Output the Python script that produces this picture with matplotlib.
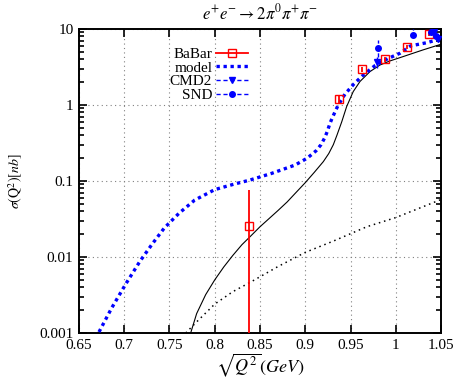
import numpy as np
import matplotlib
matplotlib.use("Agg")
import matplotlib.pyplot as plt
from matplotlib.lines import Line2D
from matplotlib.ticker import LogLocator, NullFormatter

plt.rcParams["font.family"] = ["Liberation Serif", "DejaVu Serif"]
plt.rcParams["mathtext.fontset"] = "stix"

# ---- datos ----
# modelo (linea azul punteada gruesa)
model_x = [0.6721, 0.6861, 0.7016, 0.7174, 0.7307, 0.7443, 0.7605, 0.7778, 0.800,
           0.820, 0.839, 0.8629, 0.8887, 0.9023, 0.9120, 0.9174, 0.9215, 0.9244,
           0.9270, 0.9299, 0.9359, 0.9439, 0.9539, 0.9649, 0.9771, 0.9911, 1.0047,
           1.0165, 1.0342, 1.0434, 1.050]
model_y = [0.00103, 0.00213, 0.0044, 0.0088, 0.0147, 0.0241, 0.0376, 0.056, 0.077,
           0.090, 0.103, 0.126, 0.162, 0.20, 0.25, 0.30, 0.37, 0.45,
           0.56, 0.68, 0.97, 1.39, 1.9, 2.53, 3.3, 4.07, 4.8,
           6.0, 6.6, 7.07, 7.4]

# curva negra continua
solid_x = [0.7734, 0.780, 0.790, 0.800, 0.810, 0.820, 0.830, 0.840, 0.850, 0.860,
           0.870, 0.880, 0.890, 0.900, 0.910, 0.920, 0.926, 0.931, 0.935, 0.9403,
           0.9457, 0.953, 0.9605, 0.9715, 0.9826, 0.9936, 1.0047, 1.030, 1.050]
solid_y = [0.001, 0.0018, 0.0032, 0.005, 0.0074, 0.0105, 0.0145, 0.019, 0.025, 0.032,
           0.041, 0.053, 0.071, 0.095, 0.13, 0.18, 0.23, 0.30, 0.40, 0.60,
           0.95, 1.5, 2.04, 2.75, 3.36, 3.8, 4.2, 5.3, 6.3]

# curva negra punteada fina
dot_x = [0.768, 0.780, 0.800, 0.820, 0.840, 0.870, 0.900, 0.930, 0.968, 1.000, 1.050]
dot_y = [0.001, 0.0014, 0.0024, 0.0035, 0.0047, 0.0075, 0.0115, 0.016, 0.025, 0.033, 0.057]

# BaBar
babar_x = [0.838, 0.9376, 0.9624, 0.9881, 1.0128, 1.037]
babar_y = [0.0257, 1.19, 2.95, 4.0, 5.85, 8.5]
babar_lo = [0.02569, 0.17, 0.2, 0.3, 0.4, 0.5]
babar_hi = [0.050, 0.17, 0.2, 0.3, 0.4, 0.5]

# CMD2
cmd2_x = [0.979, 1.042, 1.0465]
cmd2_y = [3.7, 9.0, 7.4]
cmd2_err = [0.6, 0.8, 0.7]

# SND
snd_x = [0.980, 1.0195, 1.0385, 1.0445]
snd_y = [5.6, 8.3, 9.2, 8.0]
snd_lo = [1.3, 0.4, 0.8, 0.8]
snd_hi = [1.6, 1.7, 0.8, 0.8]

x_ticks = [0.65, 0.7, 0.75, 0.8, 0.85, 0.9, 0.95, 1.0, 1.05]
x_tick_labels = ["0.65", "0.7", "0.75", "0.8", "0.85", "0.9", "0.95", "1", "1.05"]
y_ticks = [0.001, 0.01, 0.1, 1, 10]
y_tick_labels = ["0.001", "0.01", "0.1", "1", "10"]

# ---- grafico ----
fig = plt.figure(figsize=(4.63, 3.82), dpi=100)
ax = fig.add_axes([0.1706, 0.1283, 0.7819, 0.7958])

ax.errorbar(babar_x, babar_y, yerr=[babar_lo, babar_hi], color="red", lw=1.3,
            marker="s", ms=6, mfc="none", mec="red", mew=1.0, ls="none",
            capsize=0, zorder=4)
ax.plot(model_x, model_y, color="blue", lw=2.4, ls=(0, (1, 1.1)),
        dash_capstyle="butt", zorder=3)
ax.errorbar(cmd2_x, cmd2_y, yerr=cmd2_err, color="blue", lw=1.0, ls="none",
            marker="v", ms=4, capsize=0, zorder=5)
ax.errorbar(snd_x, snd_y, yerr=[snd_lo, snd_hi], color="blue", lw=1.0, ls="none",
            marker="o", ms=4, capsize=0, zorder=5)
ax.plot(solid_x, solid_y, color="black", lw=0.8, zorder=2)
ax.plot(dot_x, dot_y, color="black", lw=1.1, ls=(0, (1, 2.5)), zorder=2)

# barras de error a trazos para CMD2/SND
for cont in ax.containers[1:]:
    for bar in cont[2]:
        bar.set_linestyle((0, (3, 2)))

ax.set_yscale("log")
ax.set_xlim(0.65, 1.05)
ax.set_ylim(0.001, 10)
ax.set_xticks(x_ticks)
ax.set_xticklabels(x_tick_labels)
ax.set_yticks(y_ticks)
ax.set_yticklabels(y_tick_labels)
ax.yaxis.set_minor_locator(LogLocator(base=10, subs=np.arange(2, 10)))
ax.yaxis.set_minor_formatter(NullFormatter())
ax.tick_params(which="both", direction="in", top=True, right=True,
               labelsize=11, width=1.2)
ax.tick_params(which="major", length=6, pad=4)
ax.tick_params(which="minor", length=3.5)
for s in ax.spines.values():
    s.set_linewidth(1.4)

ax.grid(True, which="major", color="gray", ls=(0, (1, 3)), lw=0.8)

ax.set_title(r"$e^{+}e^{-}\rightarrow 2\pi^{0}\pi^{+}\pi^{-}$", fontsize=12, pad=7)
ax.set_xlabel(r"$\sqrt{Q^2}(GeV)$", fontsize=13, labelpad=0)
ax.set_ylabel(r"$\sigma(\mathrm{Q}^2)[nb]$", fontsize=10, labelpad=10)

handles = [
    Line2D([], [], color="red", lw=1.3, marker="s", ms=6, mfc="none", mew=1.0),
    Line2D([], [], color="blue", lw=2.4, ls=(0, (1, 1.1)), dash_capstyle="butt"),
    Line2D([], [], color="blue", lw=1.0, ls=(0, (3, 2)), marker="v", ms=4),
    Line2D([], [], color="blue", lw=1.0, ls=(0, (3, 2)), marker="o", ms=4),
]
labels = ["BaBar", "model", "CMD2", "SND"]
ax.legend(handles, labels, loc="upper right", bbox_to_anchor=(0.467, 0.94),
          markerfirst=False, frameon=False, fontsize=11, numpoints=1,
          handlelength=2.1, handletextpad=0.25, labelspacing=0.0,
          borderpad=0.0, borderaxespad=0.0)

fig.savefig("out.png", dpi=100)
